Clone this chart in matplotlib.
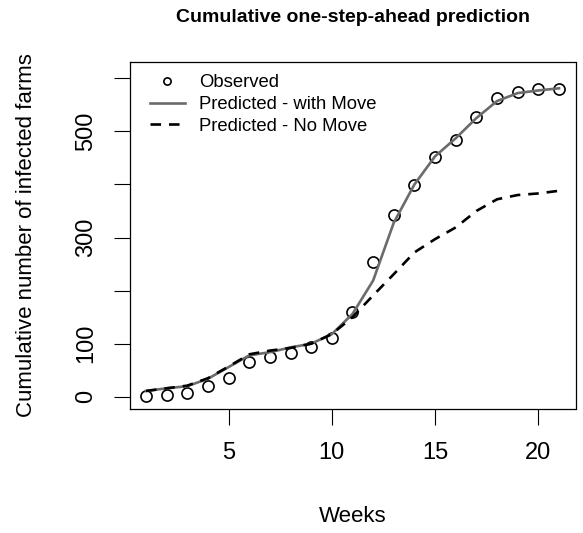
# cumulative one-step-ahead prediction chart

import matplotlib
matplotlib.use("Agg")
import matplotlib.pyplot as plt

plt.rcParams['font.family'] = ['Liberation Sans', 'DejaVu Sans']

# data
weeks = list(range(1, 22))
observed = [2, 3, 8, 20, 36, 66, 75, 83, 94, 111, 159, 253, 342, 398, 452, 484, 527, 562, 574, 579, 580]
pred_move = [11, 16, 20, 34, 56, 78, 84, 93, 100, 118, 156, 219, 328, 400, 453, 487, 525, 557, 572, 577, 581]
pred_no_move = [11, 16, 21, 35, 57, 80, 87, 92, 100, 118, 150, 191, 231, 272, 297, 319, 350, 372, 380, 383, 388]
y_ticks = [0, 100, 200, 300, 400, 500, 600]
y_tick_labels = ['0', '100', '', '300', '', '500', '']
x_ticks = [5, 10, 15, 20]

W, H = 583, 533
fig = plt.figure(figsize=(W / 100, H / 100), dpi=100)
ax = fig.add_axes([129.5 / W, 1 - 409 / H, (575.5 - 129.5) / W, (409 - 62.3) / H])

ax.plot(weeks, observed, linestyle='none', marker='o', markersize=8,
        markerfacecolor='none', markeredgecolor='black', markeredgewidth=1.2,
        label='Observed')
ax.plot(weeks, pred_move, color='#6b6b6b', linewidth=1.9, label='Predicted - with Move')
ax.plot(weeks, pred_no_move, color='black', linewidth=1.9, dashes=(4, 3),
        label='Predicted - No Move')

ax.set_xlim(0.2, 21.8)
ax.set_ylim(-23, 630)
ax.set_xticks(x_ticks)
ax.set_xticklabels([str(t) for t in x_ticks])
ax.set_yticks(y_ticks)
ax.set_yticklabels(y_tick_labels, rotation=90, va='center')
ax.tick_params(axis='both', direction='out', length=11.5, width=0.8,
               labelsize=17, pad=12)

for s in ax.spines.values():
    s.set_linewidth(0.9)

ax.legend(loc='upper left', bbox_to_anchor=(0.045, 0.965), frameon=False,
          fontsize=13.3, handlelength=1.9, handletextpad=0.8, labelspacing=0.25,
          markerscale=0.65, borderaxespad=0, borderpad=0)

fig.text(352.5 / W, 1 - 18 / H, 'Cumulative one-step-ahead prediction',
         ha='center', va='center', fontsize=14, fontweight='bold')
fig.text(352.5 / W, 1 - 516 / H, 'Weeks', ha='center', va='center', fontsize=16)
fig.text(27 / W, 1 - 235.5 / H, 'Cumulative number of infected farms',
         ha='center', va='center', rotation=90, fontsize=16)

fig.savefig('out.png', dpi=100)
